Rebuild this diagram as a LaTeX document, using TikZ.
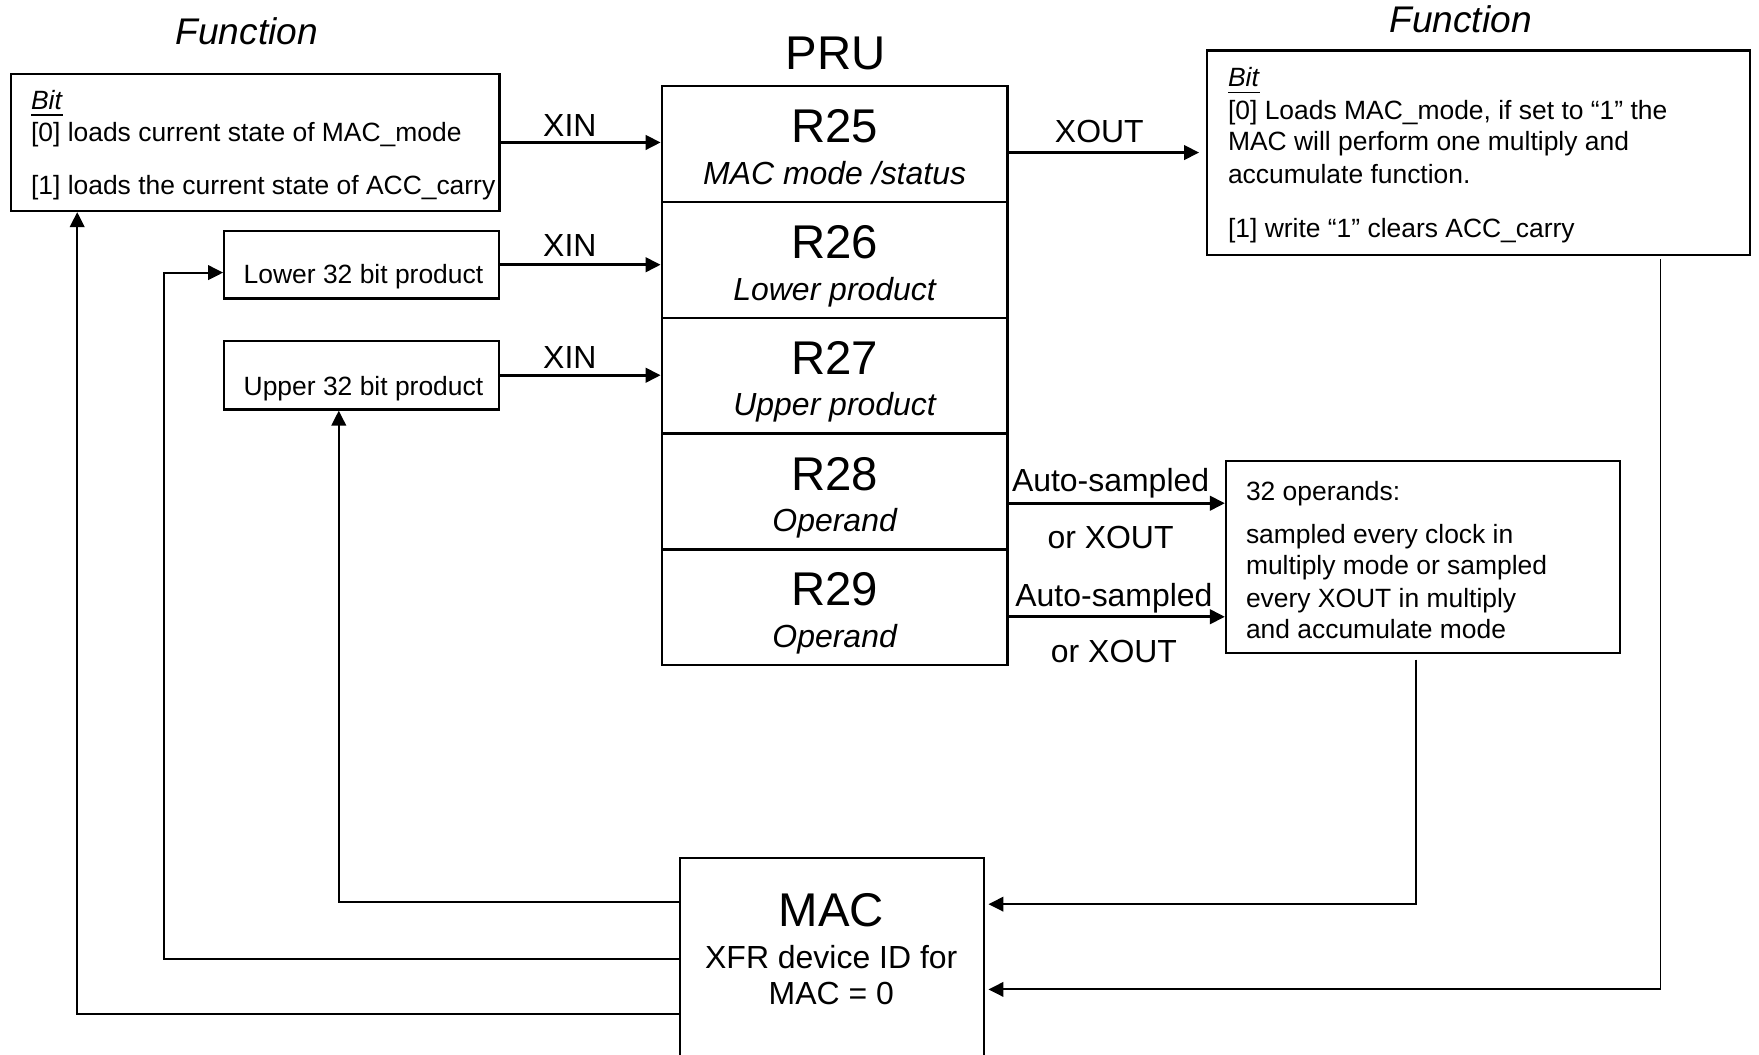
\documentclass[tikz,border=0pt]{standalone}
\usepackage{fontspec}
\setmainfont{Liberation Sans}
\usetikzlibrary{arrows.meta,calc}
\newcommand{\smallTxt}{\fontsize{6.7}{8.1}\selectfont}
\newcommand{\midTxt}{\fontsize{8.1}{9.7}\selectfont}
\newcommand{\bigTxt}{\fontsize{12}{14}\selectfont}
\newcommand{\titleTxt}{\fontsize{9.4}{11}\selectfont\itshape}

\begin{document}
\begin{tikzpicture}[x=0.01cm,y=-0.01cm,
  box/.style={draw,line width=0.6pt,inner sep=0pt},
  lbl/.style={inner sep=0pt,anchor=mid},
  line/.style={inner sep=0pt,anchor=mid west,font=\smallTxt},
  arr/.style={-{Triangle[length=3.8pt,width=3.7pt]},line width=0.65pt},
  back/.style={-{Triangle[length=3.8pt,width=3.7pt]},line width=0.5pt}]
\useasboundingbox (0,0) rectangle (1568,940);

% Titles
\node[lbl,font=\titleTxt] (fnL) at (220,30) {Function};
\node[lbl,font=\titleTxt] (fnR) at (1302,20) {Function};
\node[lbl,font=\bigTxt] (pru) at (745,53) {PRU};

% Left function box
\node[box,minimum width=4.35cm,minimum height=1.22cm] (funcL) at (227.5,127) {};
\node[line] (fl0) at (27,88) {\underline{\textit{Bit}}};
\node[line] (fl1) at (27,117) {[0] loads current state of MAC\_mode};
\node[line] (fl2) at (27,164) {[1] loads the current state of ACC\_carry};

% Product boxes
\node[box,minimum width=2.45cm,minimum height=0.60cm] (lower) at (322.5,236) {};
\node[lbl,font=\smallTxt] (lowerT) at (324,243) {Lower 32 bit product};
\node[box,minimum width=2.45cm,minimum height=0.61cm] (upper) at (322.5,334.5) {};
\node[lbl,font=\smallTxt] (upperT) at (324,343) {Upper 32 bit product};

% PRU registers
\foreach \n/\d [count=\i from 0] in {25/{MAC mode /status},26/{Lower product},27/{Upper product},28/Operand,29/Operand}{
  \node[box,minimum width=3.08cm,minimum height=1.032cm] (r\n) at (744,{128.5+103.2*\i}) {};
  \node[lbl,font=\bigTxt] (r\n-num) at (744,{118+103.2*\i}) {R\n};
  \node[lbl,font=\midTxt\itshape] (r\n-desc) at (744,{155+103.2*\i}) {\d};
}

% Right function box
\node[box,minimum width=4.84cm,minimum height=1.82cm] (funcR) at (1318,136) {};
\node[line] (fr0) at (1094,68) {\underline{\textit{Bit}}};
\node[line] (fr1) at (1094,97) {[0] Loads MAC\_mode, if set to “1” the};
\node[line] (fr2) at (1094,125) {MAC will perform one multiply and};
\node[line] (fr3) at (1094,154) {accumulate function.};
\node[line] (fr4) at (1094,202) {[1] write “1” clears ACC\_carry};

% Operands box
\node[box,minimum width=3.51cm,minimum height=1.71cm] (ops) at (1268.5,496.5) {};
\node[line] (op0) at (1110,437) {32 operands:};
\node[line] (op1) at (1110,475) {sampled every clock in};
\node[line] (op2) at (1110,503) {multiply mode or sampled};
\node[line] (op3) at (1110,532) {every XOUT in multiply};
\node[line] (op4) at (1110,560) {and accumulate mode};

% MAC
\node[box,minimum width=2.71cm,minimum height=1.95cm] (mac) at (741.5,862.5) {};
\node[lbl,font=\bigTxt] (macT) at (741,817) {MAC};
\node[lbl,font=\midTxt] (macT1) at (741,854) {XFR device ID for};
\node[lbl,font=\midTxt] (macT2) at (741,886) {MAC = 0};

% XIN / XOUT
\draw[arr] (funcL.east) -- (funcL.east -| r25.west);
\draw[arr] (lower.east) -- (lower.east -| r26.west);
\draw[arr] (upper.east) -- (upper.east -| r27.west);
\node[lbl,font=\midTxt] (xin1) at (508,112) {XIN};
\node[lbl,font=\midTxt] (xin2) at (508,219) {XIN};
\node[lbl,font=\midTxt] (xin3) at (508,319) {XIN};
\draw[arr,shorten >=1.7pt] (funcR.west -| r25.east) -- (funcR.west);
\node[lbl,font=\midTxt] (xout) at (980,118) {XOUT};

% Operand sampling
\coordinate (s28) at ($(r28.east)+(0,10.5)$);
\coordinate (s29) at ($(r29.east)+(0,8.5)$);
\draw[arr] (s28) -- (s28 -| ops.west);
\draw[arr] (s29) -- (s29 -| ops.west);
\node[lbl,font=\midTxt] (as1) at (990,429) {Auto-sampled};
\node[lbl,font=\midTxt] (ox1) at (990,480) {or XOUT};
\node[lbl,font=\midTxt] (as2) at (993,531) {Auto-sampled};
\node[lbl,font=\midTxt] (ox2) at (993,581) {or XOUT};

% Into MAC
\coordinate (opsOut) at ($(ops.south)+(-6.5,5)$);
\coordinate (macIn1) at ($(mac.east)+(3,-56.5)$);
\draw[back] (opsOut) |- (macIn1);
\coordinate (fnOut) at ($(funcR.south east)+(-81,3)$);
\coordinate (macIn2) at ($(mac.east)+(3,19.5)$);
\draw[back] (fnOut) |- (macIn2);

% Back from MAC
\coordinate (macOut1) at ($(mac.west)+(0,-58.5)$);
\draw[back] (macOut1) -| ($(upper.south)+(-20.5,0)$);
\coordinate (macOut2) at ($(mac.west)+(0,-7.5)$);
\coordinate (lowIn) at ($(lower.west)+(0,7)$);
\draw[back] (macOut2) -| ($(lowIn)+(-53,0)$) -- (lowIn);
\coordinate (macOut3) at ($(mac.west)+(0,41.5)$);
\draw[back] (macOut3) -| ($(funcL.south west)+(60,0)$);
\end{tikzpicture}
\end{document}
